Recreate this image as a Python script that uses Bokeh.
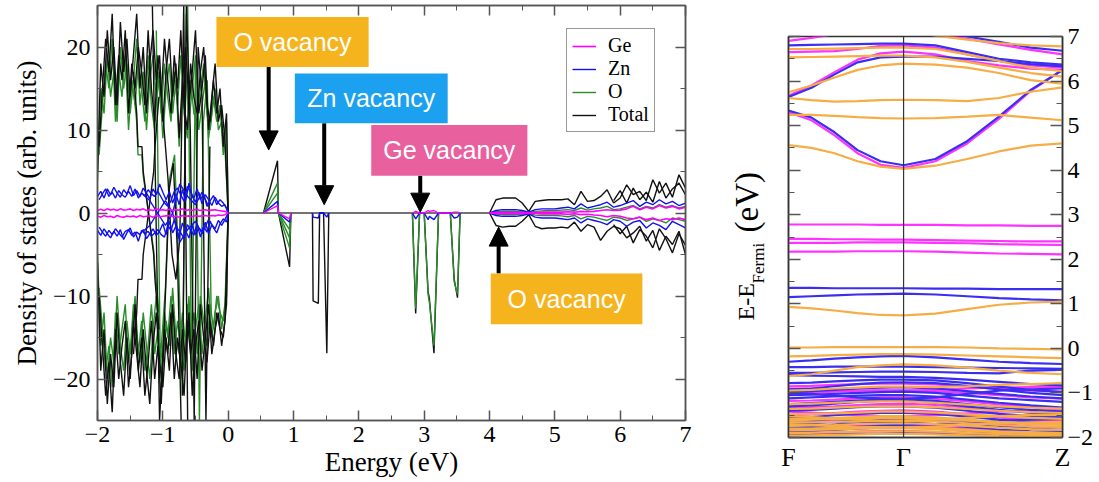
import math
from bokeh.plotting import figure
from bokeh.layouts import row, column
from bokeh.models import (Range1d, SingleIntervalTicker, FixedTicker, LinearAxis,
                          Legend, LegendItem, Arrow, NormalHead, BoxAnnotation,
                          Label, Span, CustomJSTickFormatter)
from bokeh.embed import file_html
from bokeh.resources import INLINE

SERIF = "Liberation Serif"
SANS = "Liberation Sans"

# ---------------- DOS data (left panel) ----------------
E_VB = [-2.00, -1.95, -1.90, -1.85, -1.80, -1.75, -1.70, -1.65, -1.60, -1.55,
        -1.50, -1.45, -1.40, -1.35, -1.30, -1.25, -1.20, -1.15, -1.10, -1.05,
        -1.00, -0.95, -0.90, -0.85, -0.80, -0.75, -0.70, -0.65, -0.60, -0.55,
        -0.50, -0.45, -0.40, -0.35, -0.30, -0.25, -0.20, -0.15, -0.10, -0.05,
        0.00]
E_VB_B = [-1.975, -1.925, -1.875, -1.825, -1.775, -1.725, -1.675, -1.625, -1.575, -1.525,
          -1.475, -1.425, -1.375, -1.325, -1.275, -1.225, -1.175, -1.125, -1.075, -1.025,
          -0.975, -0.925, -0.875, -0.825, -0.775, -0.725, -0.675, -0.625, -0.575, -0.525,
          -0.475, -0.425, -0.375, -0.325, -0.275, -0.225, -0.175, -0.125, -0.075, -0.025,
          0.00]
TOT_UP_A = [5, 18, 14, 22, 16, 20, 13, 23, 17, 21, 14, 19, 24, 15, 20, 12, 18, 22, 16, 19,
            11, 17, 21, 14, 18, 9, 16, 20, 13, 17, 22, 12, 15, 19, 10, 14, 18, 11, 13, 9, 0]
TOT_UP_B = [8, 15, 21, 17, 24, 13, 19, 16, 22, 12, 18, 15, 20, 17, 13, 22, 15, 11, 19, 14,
            21, 16, 12, 19, 15, 22, 13, 10, 18, 14, 12, 17, 20, 13, 11, 16, 12, 15, 8, 12, 0]
O_UP_A = [4, 15, 12, 19, 14, 17, 11, 20, 15, 18, 12, 16, 21, 13, 17, 10, 16, 19, 14, 16,
          9, 15, 18, 12, 16, 8, 14, 17, 11, 15, 19, 10, 13, 16, 9, 12, 15, 10, 11, 8, 0]
O_UP_B = [7, 13, 18, 15, 21, 11, 17, 14, 19, 10, 16, 13, 18, 15, 11, 19, 13, 10, 17, 12,
          18, 14, 11, 17, 13, 19, 12, 9, 16, 12, 11, 15, 18, 12, 10, 14, 11, 13, 7, 11, 0]
TOT_DN_A = [-6, -19, -14, -23, -17, -21, -12, -18, -22, -15, -20, -13, -17, -21, -14, -19, -23, -16, -12, -18,
            -21, -15, -19, -11, -17, -20, -14, -18, -12, -22, -16, -13, -19, -15, -11, -17, -14, -12, -16, -13, 0]
TOT_DN_B = [-10, -16, -22, -18, -24, -14, -20, -16, -13, -21, -17, -11, -19, -15, -22, -18, -13, -20, -16, -23,
            -14, -17, -12, -20, -15, -18, -22, -13, -17, -14, -20, -11, -15, -18, -13, -16, -12, -14, -15, -11, 0]
O_DN_A = [-5, -16, -12, -20, -15, -18, -10, -16, -19, -13, -17, -11, -15, -18, -12, -16, -20, -14, -10, -16,
          -18, -13, -16, -9, -15, -17, -12, -16, -10, -19, -14, -11, -17, -13, -9, -15, -12, -10, -14, -11, 0]
O_DN_B = [-9, -14, -19, -16, -21, -12, -17, -14, -11, -18, -15, -10, -17, -13, -19, -16, -11, -17, -14, -20,
          -12, -15, -10, -17, -13, -16, -19, -11, -15, -12, -17, -10, -13, -16, -11, -14, -10, -12, -13, -10, 0]
ZN_UP_A = [2.0, 2.6, 1.8, 2.9, 2.2, 3.1, 2.4, 1.9, 2.8, 2.3, 3.3, 2.1, 2.7, 2.0, 3.0, 2.4, 1.7, 2.9, 2.2, 3.5,
           2.5, 1.6, 2.6, 1.2, 2.3, 1.0, 2.8, 1.5, 3.6, 2.0, 1.3, 2.5, 1.1, 2.2, 1.6, 0.9, 1.9, 1.2, 0.8, 1.0, 0]
ZN_UP_B = [1.6, 2.3, 2.9, 2.0, 2.5, 1.8, 2.7, 2.2, 1.9, 2.6, 2.0, 2.9, 1.8, 2.4, 2.1, 2.8, 2.3, 2.0, 2.6, 1.9,
           1.2, 0.8, 1.5, 2.6, 3.0, 2.2, 1.4, 3.2, 2.5, 1.8, 2.9, 1.6, 2.3, 0.8, 1.5, 2.1, 1.0, 1.6, 1.2, 0.6, 0]
ZN_DN_A = [-2.1, -2.7, -1.9, -2.5, -3.0, -2.2, -2.8, -2.0, -3.2, -2.4, -1.8, -2.9, -2.3, -2.6, -2.0, -3.1, -2.5, -1.9, -2.7, -2.2,
           -1.3, -2.6, -1.0, -2.4, -1.6, -2.9, -1.2, -2.2, -3.0, -1.5, -2.6, -1.8, -2.2, -1.1, -2.5, -1.4, -1.9, -0.9, -1.5, -0.8, 0]
ZN_DN_B = [-1.7, -2.3, -2.8, -2.1, -2.6, -1.9, -2.4, -2.9, -2.2, -2.0, -2.7, -2.3, -3.4, -2.1, -2.5, -2.2, -2.8, -2.4, -2.0, -2.6,
           -2.9, -1.5, -2.1, -0.8, -1.9, -2.4, -3.1, -1.4, -2.0, -2.7, -1.3, -2.9, -1.6, -2.3, -1.0, -1.8, -2.4, -1.3, -0.7, -1.1, 0]
GE_UP = [0.3, 0.45, 0.3, 0.5, 0.35, 0.45, 0.3, 0.5, 0.35, 0.4, 0.5, 0.3, 0.45, 0.35, 0.5, 0.3, 0.4, 0.3, 0.5, 0.35,
         0.4, 0.3, 0.45, 0.3, 0.4, 0.35, 0.5, 0.3, 0.4, 0.3, 0.45, 0.35, 0.3, 0.4, 0.3, 0.35, 0.4, 0.3, 0.25, 0.2, 0]
GE_DN = [-0.35, -0.5, -0.3, -0.45, -0.4, -0.55, -0.3, -0.45, -0.5, -0.35, -0.45, -0.35, -0.5, -0.3, -0.45, -0.4, -0.35, -0.5, -0.3, -0.45,
         -0.4, -0.35, -0.3, -0.45, -0.35, -0.5, -0.3, -0.4, -0.35, -0.45, -0.3, -0.4, -0.35, -0.3, -0.4, -0.3, -0.35, -0.25, -0.3, -0.2, 0]

# irregular valence-band curves that swing across the whole scale
CROSS_BLACK = [
    ([-1.45, -1.40, -1.38, -1.32, -1.30, -1.22, -1.14, -1.12, -1.06], [17, 12, 8, 8, 5, 0, -5, -8, -14]),
    ([-1.45, -1.40, -1.38, -1.32, -1.30, -1.22, -1.14, -1.12, -1.06], [-17, -12, -8, -8, -5, 0, 5, 8, 14]),
    ([-1.16, -1.05, -0.98, -0.90, -0.84, -0.78, -0.72], [25, -25, -14, 3, 6, -4, -25]),
    ([-1.00, -0.92, -0.86, -0.80, -0.74, -0.68, -0.62], [12, 4, -5, -8, -3, 25, -25]),
    ([-0.70, -0.64, -0.58, -0.52, -0.46, -0.40, -0.34, -0.28], [-22, 25, 10, -25, 20, 14, -25, 8]),
]
CROSS_GREEN = [
    ([-1.45, -1.40, -1.38, -1.32, -1.30, -1.22, -1.14, -1.12, -1.06], [15, 11, 7, 7, 4.5, 0, -4.5, -7, -12]),
    ([-1.10, -1.04, -0.96, -0.90, -0.82, -0.76, -0.70, -0.64], [22, -18, -9, 4, 7, -6, -22, 24]),
    ([-0.62, -0.56, -0.50, -0.44, -0.38, -0.32, -0.26], [25, -20, 18, -25, 11, 16, -12]),
]
CROSS_BLUE_E = [-1.30, -1.20, -1.08, -0.96, -0.85, -0.74, -0.62, -0.50, -0.40, -0.30]
CROSS_BLUE_1 = [2.2, 1.5, 0, -1.5, 0, 3.5, 2.0, 1.0, 2.5, 0.8]
CROSS_BLUE_2 = [-2.2, -1.5, 0, 1.5, 0, -3.5, -2.0, -1.0, -2.5, -0.8]

# gap (zero) and defect states
GAP_E = [0.0, 4.0]
GAP_V = [0, 0]
OV_UP_E = [0.54, 0.755, 0.77]
OV_UP_TOT = [0, 6.3, 0]
OV_UP_O = [[0, 3.6, 0], [0, 2.4, 0]]
OV_UP_ZN = [0, 1.4, 0]
OV_UP_GE = [0, 0.9, 0]
OV_DN_E = [0.77, 0.94, 0.96]
OV_DN_TOT = [0, -6.5, 0]
OV_DN_O = [[0, -4.2, 0], [0, -3.0, 0], [0, -2.0, 0]]
OV_DN_ZN = [0, -1.1, 0]
OV_DN_GE = [0, -0.7, 0]
ZNV_E = [1.29, 1.30, 1.38, 1.40, 1.46, 1.51, 1.54]
ZNV_TOT = [0, -10.6, -10.9, 0, 0, -16.9, 0]
ZNV_ZN = [0, -0.5, -0.6, 0, 0, -0.5, 0]
GEV_E = [2.82, 2.87, 2.93, 3.00, 3.06, 3.08, 3.15, 3.22, 3.40, 3.46, 3.51, 3.55]
GEV_TOT = [0, -12.1, 0, 0, -9.5, -10.3, -16.9, 0, 0, -8.0, -10.2, 0]
GEV_O = [0, -11.5, 0, 0, -9.8, -10.8, -16.0, 0, 0, -8.3, -9.8, 0]
GEV_ZN = [0, -0.7, 0, 0, -0.8, -0.4, -0.8, 0, 0, -0.6, -0.5, 0]
GEV_GE = [0, 0.2, 0, 0, 0.3, 0.2, 0.3, 0, 0, 0.1, 0.1, 0]

# conduction band
E_CB = [4.0, 4.1, 4.2, 4.3, 4.4, 4.5, 4.6, 4.7, 4.8, 4.9, 5.0, 5.1, 5.2, 5.3, 5.4, 5.5,
        5.6, 5.7, 5.8, 5.9, 6.0, 6.1, 6.2, 6.3, 6.4, 6.5, 6.6, 6.7, 6.8, 6.9, 7.0]
TOT_CB_UP = [0, 1.6, 1.8, 1.8, 1.8, 1.2, 0.2, 1.4, 1.5, 1.6, 1.6, 1.6, 1.7, 1.0, 2.6, 1.4,
             1.5, 2.0, 2.8, 1.2, 1.8, 3.4, 2.2, 2.6, 1.5, 4.0, 2.4, 3.6, 1.9, 4.6, 3.0]
TOT_CB_DN = [0, -1.5, -1.7, -1.6, -1.6, -1.0, -0.2, -1.6, -1.9, -1.8, -1.8, -1.7, -1.8, -1.1, -2.2, -1.4,
             -1.7, -3.3, -2.2, -1.6, -1.9, -3.0, -2.4, -1.6, -3.4, -2.1, -4.5, -2.8, -3.8, -2.2, -5.0]
E_CB2 = [5.9, 6.0, 6.1, 6.2, 6.3, 6.4, 6.5, 6.6, 6.7, 6.8, 6.9, 7.0]
TOT_CB2_UP = [1.5, 2.7, 1.2, 3.0, 1.6, 2.5, 1.3, 3.8, 1.8, 2.9, 3.6, 2.2]
TOT_CB2_DN = [-1.4, -2.5, -1.6, -3.6, -2.0, -2.8, -4.2, -1.9, -3.1, -4.8, -2.5, -3.9]
ZN_CB_UP = [0, 0.3, 0.4, 0.4, 0.4, 0.3, 0.1, 0.4, 0.5, 0.5, 0.5, 0.6, 0.7, 0.5, 1.1, 0.6,
            0.8, 1.0, 1.3, 0.7, 0.9, 1.2, 1.5, 0.8, 1.3, 1.0, 1.6, 1.1, 1.4, 0.9, 1.2]
ZN_CB_DN = [0, -0.3, -0.4, -0.4, -0.4, -0.3, -0.1, -0.5, -0.6, -0.6, -0.6, -0.7, -0.8, -0.6, -1.2, -0.7,
            -0.9, -1.1, -1.4, -0.8, -1.0, -1.6, -1.1, -0.9, -1.8, -1.2, -1.5, -2.0, -1.0, -1.4, -1.8]
O_CB_UP = [0, 0.15, 0.2, 0.2, 0.2, 0.15, 0.05, 0.2, 0.25, 0.3, 0.3, 0.35, 0.4, 0.3, 0.6, 0.35,
           0.5, 0.6, 0.8, 0.4, 0.5, 0.7, 0.9, 0.5, 0.8, 0.6, 1.0, 0.7, 0.9, 0.6, 0.8]
O_CB_DN = [0, -0.15, -0.2, -0.2, -0.2, -0.15, -0.05, -0.25, -0.3, -0.3, -0.3, -0.35, -0.45, -0.3, -0.7, -0.4,
           -0.5, -0.7, -0.9, -0.5, -0.6, -0.9, -0.7, -0.5, -1.0, -0.7, -0.9, -1.2, -0.6, -0.8, -1.0]
GE_CB_UP = [0, 0.05, 0.05, 0.05, 0.05, 0.05, 0.0, 0.05, 0.1, 0.1, 0.1, 0.1, 0.15, 0.1, 0.2, 0.15,
            0.2, 0.3, 0.4, 0.3, 0.35, 0.5, 0.8, 0.4, 0.7, 0.5, 0.9, 0.6, 0.8, 0.5, 0.7]
GE_CB_DN = [0, -0.05, -0.05, -0.05, -0.05, -0.05, 0.0, -0.05, -0.1, -0.1, -0.1, -0.1, -0.15, -0.1, -0.2, -0.15,
            -0.25, -0.3, -0.45, -0.3, -0.4, -0.6, -0.7, -0.5, -0.8, -0.6, -0.9, -0.7, -0.8, -0.6, -0.8]

LEGEND_LABELS = ["Ge", "Zn", "O", "Total"]
VACANCY_TEXT = ["O vacancy", "Zn vacancy", "Ge vacancy", "O vacancy"]

# ---------------- Band structure data (right panel) ----------------
K_PATH = [0, 0.084, 0.168, 0.252, 0.336, 0.42, 0.536, 0.652, 0.768, 0.884, 1.0]
K_TICKS = [0, 0.42, 1]
K_LABELS = ["F", "Γ", "Z"]
BANDS_ORANGE = [
    [7.1, 7.15, 7.2, 7.2, 7.2, 7.15, 7.02, 6.93, 6.85, 6.8, 6.78],
    [6.72, 6.72, 6.73, 6.74, 6.75, 6.75, 6.72, 6.6, 6.45, 6.3, 6.22],
    [6.53, 6.54, 6.55, 6.56, 6.57, 6.57, 6.53, 6.43, 6.3, 6.18, 6.1],
    [5.75, 5.9, 6.08, 6.25, 6.35, 6.39, 6.37, 6.3, 6.18, 6.02, 5.94],
    [5.62, 5.57, 5.54, 5.55, 5.57, 5.58, 5.57, 5.55, 5.62, 5.76, 5.86],
    [5.24, 5.24, 5.22, 5.19, 5.17, 5.16, 5.17, 5.2, 5.24, 5.18, 5.12],
    [4.56, 4.5, 4.38, 4.2, 4.08, 4.03, 4.1, 4.25, 4.42, 4.55, 4.6],
    [0.93, 0.9, 0.85, 0.79, 0.75, 0.74, 0.78, 0.88, 0.98, 1.03, 1.05],
    [0.02, 0.02, 0.03, 0.03, 0.03, 0.03, 0.03, 0.02, 0.0, -0.01, -0.02],
    [-0.18, -0.17, -0.15, -0.14, -0.13, -0.13, -0.14, -0.16, -0.18, -0.2, -0.22],
    [-0.62, -0.58, -0.5, -0.42, -0.38, -0.36, -0.38, -0.43, -0.5, -0.55, -0.58],
    [-0.95, -0.93, -0.9, -0.88, -0.86, -0.86, -0.87, -0.85, -0.82, -0.8, -0.78],
    [-1.25, -1.24, -1.22, -1.2, -1.19, -1.19, -1.22, -1.26, -1.3, -1.33, -1.35],
    [-1.36, -1.35, -1.33, -1.31, -1.3, -1.3, -1.32, -1.36, -1.4, -1.43, -1.45],
    [-1.48, -1.47, -1.46, -1.44, -1.42, -1.42, -1.44, -1.48, -1.52, -1.56, -1.58],
    [-1.52, -1.54, -1.57, -1.6, -1.62, -1.62, -1.6, -1.56, -1.52, -1.5, -1.49],
    [-1.58, -1.57, -1.56, -1.54, -1.52, -1.52, -1.55, -1.6, -1.65, -1.68, -1.7],
    [-1.62, -1.6, -1.58, -1.57, -1.56, -1.56, -1.58, -1.62, -1.66, -1.7, -1.72],
    [-1.66, -1.66, -1.65, -1.64, -1.63, -1.62, -1.64, -1.68, -1.72, -1.75, -1.76],
    [-1.7, -1.72, -1.75, -1.77, -1.78, -1.78, -1.76, -1.72, -1.68, -1.66, -1.65],
    [-1.74, -1.73, -1.72, -1.7, -1.69, -1.68, -1.7, -1.74, -1.78, -1.81, -1.83],
    [-1.8, -1.8, -1.79, -1.78, -1.77, -1.77, -1.79, -1.82, -1.86, -1.88, -1.9],
    [-1.84, -1.83, -1.82, -1.8, -1.79, -1.79, -1.81, -1.85, -1.88, -1.9, -1.92],
    [-1.9, -1.89, -1.88, -1.87, -1.86, -1.86, -1.87, -1.9, -1.92, -1.94, -1.95],
    [-1.96, -1.95, -1.94, -1.93, -1.92, -1.92, -1.93, -1.95, -1.97, -1.98, -1.99],
]
BANDS_MAGENTA = [
    [5.3, 5.12, 4.78, 4.38, 4.12, 4.05, 4.2, 4.6, 5.15, 5.78, 6.25],
    [5.67, 5.9, 6.2, 6.48, 6.62, 6.66, 6.6, 6.45, 6.35, 6.28, 6.25],
    [6.65, 6.66, 6.67, 6.72, 6.79, 6.8, 6.75, 6.6, 6.45, 6.35, 6.3],
    [6.9, 6.97, 7.05, 7.1, 7.15, 7.15, 7.05, 6.95, 6.82, 6.7, 6.6],
    [2.78, 2.78, 2.78, 2.78, 2.77, 2.77, 2.77, 2.76, 2.76, 2.75, 2.75],
    [2.46, 2.46, 2.45, 2.45, 2.44, 2.44, 2.43, 2.42, 2.41, 2.4, 2.4],
    [2.37, 2.37, 2.37, 2.38, 2.38, 2.38, 2.37, 2.36, 2.34, 2.33, 2.32],
    [2.17, 2.17, 2.17, 2.18, 2.18, 2.18, 2.17, 2.15, 2.13, 2.12, 2.11],
    [-0.85, -0.84, -0.82, -0.8, -0.79, -0.79, -0.81, -0.86, -0.91, -0.95, -0.97],
    [-0.9, -0.9, -0.92, -0.94, -0.95, -0.95, -0.93, -0.9, -0.88, -0.87, -0.86],
    [-1.0, -0.99, -0.97, -0.95, -0.94, -0.94, -0.96, -1.0, -1.05, -1.1, -1.13],
    [-1.18, -1.17, -1.15, -1.12, -1.1, -1.1, -1.13, -1.19, -1.26, -1.31, -1.35],
    [-1.33, -1.32, -1.3, -1.27, -1.25, -1.24, -1.27, -1.33, -1.39, -1.44, -1.47],
    [-1.42, -1.44, -1.47, -1.5, -1.52, -1.52, -1.5, -1.46, -1.42, -1.4, -1.38],
    [-1.5, -1.48, -1.45, -1.42, -1.4, -1.39, -1.42, -1.48, -1.55, -1.6, -1.62],
    [-1.65, -1.63, -1.6, -1.57, -1.55, -1.55, -1.58, -1.63, -1.7, -1.75, -1.77],
    [-1.82, -1.8, -1.77, -1.74, -1.72, -1.72, -1.75, -1.8, -1.85, -1.88, -1.9],
    [-1.95, -1.93, -1.9, -1.87, -1.85, -1.85, -1.88, -1.92, -1.96, -1.99, -2.0],
]
BANDS_BLUE = [
    [5.34, 5.18, 4.85, 4.45, 4.2, 4.11, 4.25, 4.65, 5.2, 5.8, 6.25],
    [5.64, 5.85, 6.15, 6.42, 6.53, 6.55, 6.55, 6.5, 6.45, 6.38, 6.33],
    [6.8, 6.81, 6.82, 6.83, 6.84, 6.84, 6.8, 6.65, 6.5, 6.42, 6.37],
    [7.0, 7.05, 7.1, 7.15, 7.2, 7.2, 7.1, 7.0, 6.88, 6.75, 6.68],
    [1.36, 1.36, 1.35, 1.35, 1.35, 1.35, 1.34, 1.34, 1.33, 1.33, 1.33],
    [1.15, 1.17, 1.19, 1.21, 1.22, 1.23, 1.21, 1.17, 1.13, 1.1, 1.08],
    [-0.3, -0.27, -0.23, -0.2, -0.18, -0.17, -0.2, -0.25, -0.3, -0.33, -0.35],
    [-0.42, -0.42, -0.41, -0.41, -0.41, -0.41, -0.42, -0.43, -0.44, -0.45, -0.46],
    [-0.55, -0.55, -0.54, -0.53, -0.52, -0.52, -0.53, -0.55, -0.56, -0.5, -0.48],
    [-0.6, -0.61, -0.62, -0.63, -0.64, -0.64, -0.66, -0.7, -0.75, -0.8, -0.83],
    [-0.78, -0.77, -0.74, -0.72, -0.7, -0.7, -0.72, -0.78, -0.86, -0.93, -0.98],
    [-0.92, -0.9, -0.85, -0.8, -0.77, -0.76, -0.78, -0.84, -0.92, -1.0, -1.05],
    [-0.98, -0.96, -0.93, -0.9, -0.88, -0.87, -0.9, -0.96, -1.02, -1.08, -1.12],
    [-1.0, -1.02, -1.06, -1.1, -1.12, -1.13, -1.1, -1.02, -0.95, -0.92, -0.9],
    [-1.05, -1.04, -1.02, -1.0, -0.98, -0.97, -1.0, -1.06, -1.12, -1.16, -1.2],
    [-1.12, -1.1, -1.08, -1.06, -1.05, -1.05, -1.08, -1.15, -1.22, -1.28, -1.33],
    [-1.25, -1.23, -1.2, -1.17, -1.15, -1.14, -1.18, -1.25, -1.32, -1.38, -1.42],
    [-1.3, -1.28, -1.24, -1.2, -1.18, -1.18, -1.22, -1.3, -1.38, -1.44, -1.48],
    [-1.4, -1.38, -1.35, -1.32, -1.3, -1.3, -1.33, -1.4, -1.47, -1.52, -1.55],
    [-1.55, -1.54, -1.5, -1.47, -1.45, -1.44, -1.47, -1.53, -1.6, -1.65, -1.68],
    [-1.6, -1.62, -1.66, -1.7, -1.72, -1.72, -1.7, -1.66, -1.62, -1.6, -1.58],
    [-1.7, -1.68, -1.65, -1.62, -1.6, -1.6, -1.63, -1.68, -1.74, -1.8, -1.83],
    [-1.78, -1.76, -1.72, -1.68, -1.66, -1.66, -1.7, -1.76, -1.82, -1.86, -1.88],
    [-1.88, -1.86, -1.83, -1.8, -1.78, -1.77, -1.8, -1.85, -1.9, -1.94, -1.96],
    [-1.95, -1.94, -1.93, -1.92, -1.91, -1.9, -1.92, -1.94, -1.96, -1.98, -1.99],
]

# ---------------- colours ----------------
C_GE, C_ZN, C_O, C_TOT = "#ff00ff", "#1010f0", "#2a8c2a", "#111111"
B_OR, B_MA, B_BL = "#f6ad45", "#ff33ff", "#3a2ff0"
AX = "#555555"
EMPTY = CustomJSTickFormatter(code="return '';")


def style_axis(ax, tick_in, minor_in, labels=True, size="24px"):
    ax.axis_line_color = AX
    ax.axis_line_width = 1.5
    ax.major_tick_line_color = AX
    ax.minor_tick_line_color = AX
    ax.major_tick_line_width = 1.5
    ax.major_tick_in = tick_in
    ax.major_tick_out = 0
    ax.minor_tick_in = minor_in
    ax.minor_tick_out = 0
    ax.major_label_text_font = SERIF
    ax.major_label_text_color = "black"
    if labels:
        ax.major_label_text_font_size = size
    else:
        ax.formatter = EMPTY
        ax.major_label_text_font_size = "1px"
        ax.major_label_standoff = 0


# ================= LEFT: DOS =================
p1 = figure(width=720, height=482, x_range=Range1d(-2, 7), y_range=Range1d(-25, 25),
            output_backend="svg", toolbar_location=None, title=None,
            min_border_left=97, min_border_right=35, min_border_top=5, min_border_bottom=62)
p1.xgrid.visible = False
p1.ygrid.visible = False
p1.outline_line_color = AX
p1.outline_line_width = 1.5

p1.xaxis.ticker = SingleIntervalTicker(interval=1, num_minor_ticks=2)
p1.yaxis.ticker = SingleIntervalTicker(interval=10, num_minor_ticks=2)
style_axis(p1.xaxis[0], 10, 5)
style_axis(p1.yaxis[0], 10, 5)
p1.xaxis.major_label_standoff = 6
p1.yaxis.major_label_standoff = 7
p1.xaxis.axis_label = "Energy (eV)"
p1.yaxis.axis_label = "Density of states (arb. units)"
for ax in (p1.xaxis[0], p1.yaxis[0]):
    ax.axis_label_text_font = SERIF
    ax.axis_label_text_font_size = "27px"
    ax.axis_label_text_font_style = "normal"
    ax.axis_label_text_color = "black"
p1.xaxis.axis_label_standoff = 2
p1.yaxis.axis_label_standoff = 8

top_ax = LinearAxis(ticker=SingleIntervalTicker(interval=1, num_minor_ticks=2))
style_axis(top_ax, 10, 5, labels=False)
p1.add_layout(top_ax, "above")
right_ax = LinearAxis(ticker=SingleIntervalTicker(interval=10, num_minor_ticks=2))
style_axis(right_ax, 10, 5, labels=False)
p1.add_layout(right_ax, "right")

LW = 1.4
# oxygen (green)
r_o = p1.line(E_VB, O_UP_A, color=C_O, line_width=LW)
p1.line(E_VB_B, O_UP_B, color=C_O, line_width=LW)
p1.line(E_VB, O_DN_A, color=C_O, line_width=LW)
p1.line(E_VB_B, O_DN_B, color=C_O, line_width=LW)
for xs, ys in CROSS_GREEN:
    p1.line(xs, ys, color=C_O, line_width=LW)

# totals (black)
r_tot = p1.line(E_VB, TOT_UP_A, color=C_TOT, line_width=LW)
p1.line(E_VB_B, TOT_UP_B, color=C_TOT, line_width=LW)
p1.line(E_VB, TOT_DN_A, color=C_TOT, line_width=LW)
p1.line(E_VB_B, TOT_DN_B, color=C_TOT, line_width=LW)
for xs, ys in CROSS_BLACK:
    p1.line(xs, ys, color=C_TOT, line_width=LW)
p1.line(GAP_E, GAP_V, color="#444444", line_width=1.5)
p1.line(OV_UP_E, OV_UP_TOT, color=C_TOT, line_width=LW)
p1.line(OV_DN_E, OV_DN_TOT, color=C_TOT, line_width=LW)
p1.line(ZNV_E, ZNV_TOT, color=C_TOT, line_width=LW)
p1.line(GEV_E, GEV_TOT, color=C_TOT, line_width=LW)
p1.line(E_CB, TOT_CB_UP, color=C_TOT, line_width=LW)
p1.line(E_CB, TOT_CB_DN, color=C_TOT, line_width=LW)
p1.line(E_CB2, TOT_CB2_UP, color=C_TOT, line_width=LW)
p1.line(E_CB2, TOT_CB2_DN, color=C_TOT, line_width=LW)

# defect / conduction oxygen
for ys in OV_UP_O:
    p1.line(OV_UP_E, ys, color=C_O, line_width=LW)
for ys in OV_DN_O:
    p1.line(OV_DN_E, ys, color=C_O, line_width=LW)
p1.line(GEV_E, GEV_O, color=C_O, line_width=LW)
p1.line(E_CB, O_CB_UP, color=C_O, line_width=LW)
p1.line(E_CB, O_CB_DN, color=C_O, line_width=LW)

# zinc (blue)
r_zn = p1.line(E_VB, ZN_UP_A, color=C_ZN, line_width=LW)
p1.line(E_VB_B, ZN_UP_B, color=C_ZN, line_width=LW)
p1.line(E_VB, ZN_DN_A, color=C_ZN, line_width=LW)
p1.line(E_VB_B, ZN_DN_B, color=C_ZN, line_width=LW)
p1.line(CROSS_BLUE_E, CROSS_BLUE_1, color=C_ZN, line_width=LW)
p1.line(CROSS_BLUE_E, CROSS_BLUE_2, color=C_ZN, line_width=LW)
p1.line(OV_UP_E, OV_UP_ZN, color=C_ZN, line_width=LW)
p1.line(OV_DN_E, OV_DN_ZN, color=C_ZN, line_width=LW)
p1.line(ZNV_E, ZNV_ZN, color=C_ZN, line_width=LW)
p1.line(GEV_E, GEV_ZN, color=C_ZN, line_width=LW)
p1.line(E_CB, ZN_CB_UP, color=C_ZN, line_width=LW)
p1.line(E_CB, ZN_CB_DN, color=C_ZN, line_width=LW)

# germanium (magenta)
r_ge = p1.line(E_VB, GE_UP, color=C_GE, line_width=1.6)
p1.line(E_VB, GE_DN, color=C_GE, line_width=1.6)
p1.line(OV_UP_E, OV_UP_GE, color=C_GE, line_width=LW)
p1.line(OV_DN_E, OV_DN_GE, color=C_GE, line_width=LW)
p1.line(GEV_E, GEV_GE, color=C_GE, line_width=LW)
p1.line(E_CB, GE_CB_UP, color=C_GE, line_width=1.6)
p1.line(E_CB, GE_CB_DN, color=C_GE, line_width=1.6)

legend = Legend(items=[LegendItem(label=LEGEND_LABELS[0], renderers=[r_ge]),
                       LegendItem(label=LEGEND_LABELS[1], renderers=[r_zn]),
                       LegendItem(label=LEGEND_LABELS[2], renderers=[r_o]),
                       LegendItem(label=LEGEND_LABELS[3], renderers=[r_tot])],
                location=(469, 288), orientation="vertical")
legend.label_text_font = SERIF
legend.label_text_font_size = "20px"
legend.label_text_color = "black"
legend.label_text_line_height = 1.0
legend.label_height = 22
legend.glyph_height = 20
legend.glyph_width = 24
legend.label_standoff = 12
legend.spacing = 0
legend.padding = 5
legend.margin = 0
legend.border_line_color = "#333333"
legend.border_line_width = 1.2
legend.background_fill_alpha = 1
p1.add_layout(legend)

# vacancy call-outs
NOTE_BOX = [(-0.18, 2.15, 17.6, 23.6), (1.02, 3.36, 10.8, 16.8),
            (2.19, 4.58, 4.5, 10.6), (4.02, 6.34, -13.4, -7.3)]
NOTE_COL = ["#f5b41e", "#1ba1ef", "#e9609f", "#f5b41e"]
ARROWS = [(0.62, 17.6, 0.62, 7.6), (1.47, 10.8, 1.47, 1.0),
          (2.94, 4.5, 2.94, 0.1), (4.14, -7.3, 4.14, -1.7)]
for (xs, ys, xe, ye) in ARROWS:
    p1.add_layout(Arrow(end=NormalHead(size=19, fill_color="black", line_color="black"),
                        x_start=xs, y_start=ys, x_end=xe, y_end=ye,
                        line_color="black", line_width=4))
for txt, (l, r, b, t), col in zip(VACANCY_TEXT, NOTE_BOX, NOTE_COL):
    p1.add_layout(BoxAnnotation(left=l, right=r, bottom=b, top=t, fill_color=col,
                                fill_alpha=1, line_alpha=0))
    p1.add_layout(Label(x=(l + r) / 2, y=(b + t) / 2, text=txt, text_align="center",
                        text_baseline="middle", text_color="white",
                        text_font=SANS, text_font_size="25px"))

# ================= MIDDLE: title of the band-structure axis =================
# its frame is aligned with the DOS frame (page y 5..420); y value = 482 - page y
pm = figure(width=60, height=482, x_range=Range1d(0, 60), y_range=Range1d(62, 477),
            output_backend="svg", toolbar_location=None, title=None,
            x_axis_location=None, y_axis_location=None,
            min_border_left=0, min_border_right=0, min_border_top=0, min_border_bottom=0)
pm.outline_line_color = None
pm.xgrid.visible = False
pm.ygrid.visible = False
pm.add_layout(Label(x=25, y=162, text="E-E", angle=math.pi / 2, text_align="left",
                    text_baseline="middle", text_font=SERIF, text_font_size="24px",
                    text_color="black"))
pm.add_layout(Label(x=37.5, y=199, text="Fermi", angle=math.pi / 2, text_align="left",
                    text_baseline="middle", text_font=SERIF, text_font_size="17px",
                    text_color="black"))
pm.add_layout(Label(x=26.5, y=250, text="(eV)", angle=math.pi / 2, text_align="left",
                    text_baseline="middle", text_font=SERIF, text_font_size="33px",
                    text_color="black"))

# ================= strip with the (clipped) panel title =================
ps = figure(width=319, height=6, x_range=Range1d(0, 319), y_range=Range1d(0, 6),
            output_backend="svg", toolbar_location=None, title=None,
            x_axis_location=None, y_axis_location=None,
            min_border_left=0, min_border_right=0, min_border_top=0, min_border_bottom=0)
ps.outline_line_color = None
ps.xgrid.visible = False
ps.ygrid.visible = False
ps.add_layout(Label(x=143, y=1, text="SPIN DOWN", text_align="center",
                    text_baseline="alphabetic", text_font=SERIF, text_font_size="22px",
                    text_color="black"))

# ================= RIGHT: band structure =================
p2 = figure(width=319, height=476, x_range=Range1d(0, 1), y_range=Range1d(-2, 7),
            y_axis_location="right", output_backend="svg", toolbar_location=None, title=None,
            min_border_left=8, min_border_right=37, min_border_top=30, min_border_bottom=45)
p2.xgrid.visible = False
p2.ygrid.visible = False
p2.outline_line_color = "#333333"
p2.outline_line_width = 1.5

p2.yaxis.ticker = SingleIntervalTicker(interval=1, num_minor_ticks=2)
style_axis(p2.yaxis[0], 12, 6)
p2.yaxis.axis_line_color = "#333333"
p2.yaxis.major_label_standoff = 5
p2.xaxis.ticker = FixedTicker(ticks=K_TICKS)
p2.xaxis.major_label_overrides = {K_TICKS[i]: K_LABELS[i] for i in range(3)}
style_axis(p2.xaxis[0], 0, 0, size="26px")
p2.xaxis.major_label_standoff = 5
p2.xaxis.axis_line_color = "#333333"

left_ticks = LinearAxis(ticker=SingleIntervalTicker(interval=1, num_minor_ticks=2))
style_axis(left_ticks, 12, 6, labels=False)
left_ticks.axis_line_color = "#333333"
p2.add_layout(left_ticks, "left")

for band in BANDS_MAGENTA:
    p2.line(K_PATH, band, color=B_MA, line_width=2.2)
for band in BANDS_BLUE:
    p2.line(K_PATH, band, color=B_BL, line_width=2.2)
for band in BANDS_ORANGE:
    p2.line(K_PATH, band, color=B_OR, line_width=2.2)

p2.add_layout(Span(location=K_TICKS[1], dimension="height", line_color="#333333", line_width=1.2))

layout = row(p1, pm, column(ps, p2, spacing=0), spacing=0)
open("out.html", "w").write(file_html(layout, INLINE))
